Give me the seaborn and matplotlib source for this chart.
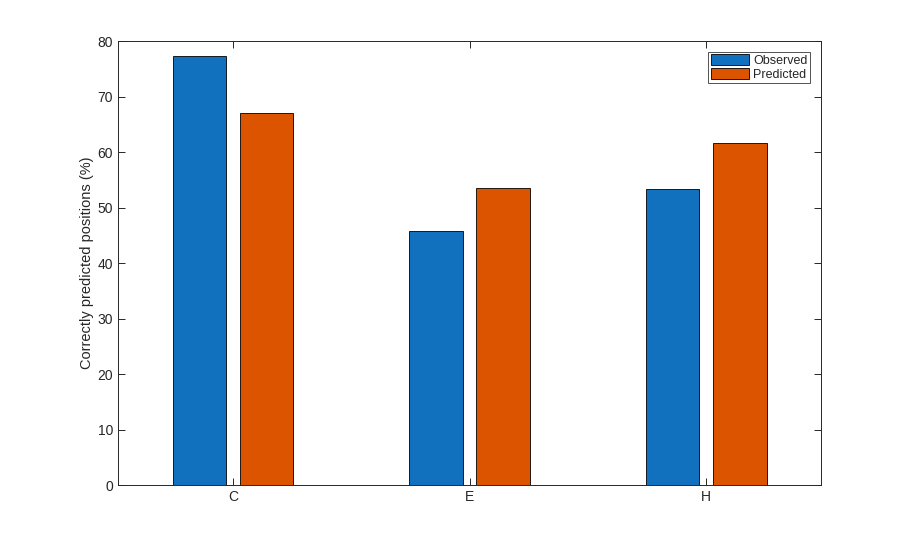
import matplotlib
matplotlib.use("Agg")
import matplotlib.pyplot as plt
import seaborn as sns
import pandas as pd

categories = ["C", "E", "H"]
observed = [77.3, 45.7, 53.3]
predicted = [67.0, 53.5, 61.6]
series_names = ["Observed", "Predicted"]
yticks = [0, 10, 20, 30, 40, 50, 60, 70, 80]

df = pd.DataFrame({
    "cat": categories * 2,
    "val": observed + predicted,
    "series": [series_names[0]] * 3 + [series_names[1]] * 3,
})

sns.set_style("white")
plt.rcParams["font.family"] = ["Liberation Sans", "DejaVu Sans"]

fig = plt.figure(figsize=(9.08, 5.46), dpi=100)
ax = fig.add_axes([0.13, 0.1117, 0.7742, 0.8132])

sns.barplot(data=df, x="cat", y="val", hue="series", order=categories,
            hue_order=series_names, palette=["#1171BE", "#DD5400"],
            width=0.568, gap=0.2, edgecolor="black", linewidth=0.6,
            saturation=1, errorbar=None, ax=ax)

ax.set_xlim(-0.486, 2.486)
ax.set_ylim(0, 80)
ax.set_yticks(yticks)
ax.set_xlabel("")
ax.set_ylabel("Correctly predicted positions (%)", fontsize=10.5, color="#262626")
ax.yaxis.set_label_coords(-0.034, 0.5)
for s in ax.spines.values():
    s.set_visible(True)
    s.set_color("#262626")
    s.set_linewidth(0.7)
ax.tick_params(direction="in", length=5, width=0.7, colors="#262626",
               labelsize=10, top=True, right=True, bottom=True, left=True)
ax.grid(False)

leg = ax.legend(loc="upper right", bbox_to_anchor=(0.9845, 0.976), fontsize=9,
                frameon=True, fancybox=False, edgecolor="#262626",
                handlelength=3.1, handleheight=1.0, handletextpad=0.3,
                labelspacing=0.05, borderpad=0.2, borderaxespad=0.0)
leg.get_frame().set_linewidth(0.7)

fig.savefig("out.png", dpi=100, facecolor="white")
